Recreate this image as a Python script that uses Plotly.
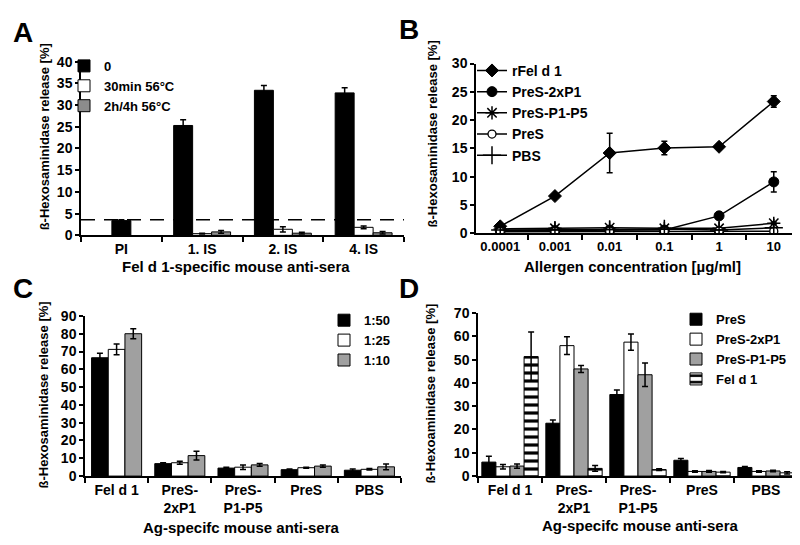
import plotly.graph_objects as go

W, H = 800, 545
def px(x): return x / W
def py(y): return 1 - y / H

FONT = "Liberation Sans, Arial, sans-serif"

# ---------------- Panel A data ----------------
a_cats = ["PI", "1. IS", "2. IS", "4. IS"]
a_s0 = [3.4, 25.3, 33.4, 32.8]
a_s0_err = [0.2, 1.3, 1.1, 1.2]
a_s30 = [None, 0.4, 1.4, 1.85]
a_s30_err = [None, 0.1, 0.6, 0.3]
a_s2h = [None, 0.8, 0.5, 0.6]
a_s2h_err = [None, 0.3, 0.2, 0.3]
a_threshold = 3.6
a_names = ["0", "30min 56°C", "2h/4h 56°C"]

# ---------------- Panel B data ----------------
b_cats = ["0.0001", "0.001", "0.01", "0.1", "1", "10"]
b_rfeld1 = [1.25, 6.6, 14.2, 15.1, 15.3, 23.3]
b_rfeld1_err = [0.3, 0.3, 3.5, 1.2, 0.5, 1.0]
b_pres2xp1 = [0.5, 0.5, 0.6, 0.6, 3.1, 9.1]
b_pres2xp1_err = [0.1, 0.1, 0.1, 0.1, 0.3, 1.8]
b_presp1p5 = [0.8, 0.9, 1.0, 0.9, 0.9, 1.8]
b_presp1p5_err = [0.1, 0.1, 0.2, 0.1, 0.1, 0.2]
b_pres = [0.3, 0.3, 0.4, 0.4, 0.4, 0.4]
b_pbs = [0.6, 0.6, 0.7, 0.8, 0.6, 1.0]

# ---------------- Panel C data ----------------
c_cats = ["Fel d 1", "PreS-<br>2xP1", "PreS-<br>P1-P5", "PreS", "PBS"]
c_150 = [66.5, 7.0, 4.5, 3.6, 3.3]
c_150_err = [2.5, 0.5, 0.4, 0.4, 0.7]
c_125 = [71.2, 7.5, 5.0, 4.7, 3.8]
c_125_err = [3.0, 0.8, 1.3, 0.3, 0.4]
c_110 = [80.0, 11.5, 6.3, 5.6, 5.2]
c_110_err = [2.8, 2.5, 0.8, 0.6, 1.6]
c_names = ["1:50", "1:25", "1:10"]

# ---------------- Panel D data ----------------
d_cats = ["Fel d 1", "PreS-<br>2xP1", "PreS-<br>P1-P5", "PreS", "PBS"]
d_pres = [6.0, 22.7, 35.0, 6.8, 3.7]
d_pres_err = [2.5, 1.4, 2.0, 0.8, 0.4]
d_pres2xp1 = [4.0, 56.0, 57.5, 2.0, 2.0]
d_pres2xp1_err = [1.0, 3.8, 3.5, 0.3, 0.3]
d_presp1p5 = [4.3, 46.0, 43.5, 2.0, 2.2]
d_presp1p5_err = [0.9, 1.5, 5.0, 0.4, 0.3]
d_feld1 = [51.3, 3.3, 2.8, 1.7, 1.4]
d_feld1_err = [10.5, 1.2, 0.4, 0.3, 0.5]
d_names = ["PreS", "PreS-2xP1", "PreS-P1-P5", "Fel d 1"]

fig = go.Figure()

def err(arr):
    return dict(type="data", array=arr, visible=True, color="black", thickness=1.5, width=3)

line = dict(color="black", width=1)

# Panel A bars
wA = 0.235
fig.add_trace(go.Bar(x=a_cats, y=a_s0, error_y=err(a_s0_err), name=a_names[0],
                     marker=dict(color="black", line=line), width=wA,
                     offset=[-wA / 2, -1.5 * wA, -1.5 * wA, -1.5 * wA],
                     xaxis="x", yaxis="y", legend="legend"))
fig.add_trace(go.Bar(x=a_cats, y=a_s30, error_y=err(a_s30_err), name=a_names[1],
                     marker=dict(color="white", line=line), width=wA, offset=-wA / 2,
                     xaxis="x", yaxis="y", legend="legend"))
fig.add_trace(go.Bar(x=a_cats, y=a_s2h, error_y=err(a_s2h_err), name=a_names[2],
                     marker=dict(color="#8c8c8c", line=line), width=wA, offset=wA / 2,
                     xaxis="x", yaxis="y", legend="legend"))

# Panel B lines
mline = dict(color="black", width=1.5)
b_series = [
    ("rFel d 1", b_rfeld1, b_rfeld1_err, dict(symbol="diamond", size=10, color="black", line=dict(color="black", width=1))),
    ("PreS-2xP1", b_pres2xp1, b_pres2xp1_err, dict(symbol="circle", size=10, color="black", line=dict(color="black", width=1))),
    ("PreS-P1-P5", b_presp1p5, b_presp1p5_err, dict(symbol="asterisk-open", size=11, color="black", line=dict(color="black", width=1.5))),
    ("PreS", b_pres, None, dict(symbol="circle", size=8, color="white", line=dict(color="black", width=1.3))),
    ("PBS", b_pbs, None, dict(symbol="cross-thin-open", size=13, color="black", line=dict(color="black", width=1.5))),
]
for name, vals, e, mk in b_series:
    fig.add_trace(go.Scatter(x=b_cats, y=vals, mode="lines+markers", name=name,
                             line=mline, marker=mk,
                             error_y=err(e) if e else None,
                             xaxis="x2", yaxis="y2", legend="legend2"))

# Panel C bars
wC = 0.264
for vals, e, name, col, off in [(c_150, c_150_err, c_names[0], "black", -1.5 * wC),
                                (c_125, c_125_err, c_names[1], "white", -0.5 * wC),
                                (c_110, c_110_err, c_names[2], "#a0a0a0", 0.5 * wC)]:
    fig.add_trace(go.Bar(x=c_cats, y=vals, error_y=err(e), name=name,
                         marker=dict(color=col, line=line), width=wC, offset=off,
                         xaxis="x3", yaxis="y3", legend="legend3"))

# Panel D bars
wD = 0.22
d_series = [(d_pres, d_pres_err, d_names[0], dict(color="black", line=line), -2 * wD),
            (d_pres2xp1, d_pres2xp1_err, d_names[1], dict(color="white", line=line), -wD),
            (d_presp1p5, d_presp1p5_err, d_names[2], dict(color="#a0a0a0", line=line), 0),
            (d_feld1, d_feld1_err, d_names[3],
             dict(color="white", line=line,
                  pattern=dict(shape="-", fgcolor="black", bgcolor="white", fgopacity=1,
                               size=8, solidity=0.4)), wD)]
for vals, e, name, mk, off in d_series:
    fig.add_trace(go.Bar(x=d_cats, y=vals, error_y=err(e), name=name, marker=mk,
                         width=wD, offset=off, xaxis="x4", yaxis="y4", legend="legend4"))

def tf(size):
    return dict(family=FONT, size=size, color="black", weight="bold")

def yax(domain, rng, dtick, anchor):
    return dict(domain=domain, range=rng, dtick=dtick, anchor=anchor, showline=True,
                linecolor="black", linewidth=1.5, ticks="outside", ticklen=4, tickwidth=1.5,
                tickcolor="black", showgrid=False, zeroline=False, tickfont=tf(14),
                fixedrange=True)
def xax(domain, anchor, size=14):
    return dict(domain=domain, anchor=anchor, type="category", tickson="boundaries",
                showline=True, linecolor="black", linewidth=1.5, ticks="outside", ticklen=5,
                tickwidth=1.5, tickcolor="black", showgrid=False, zeroline=False,
                tickangle=0, tickfont=tf(size), fixedrange=True)

def leg(x, y, size=14):
    return dict(x=x, y=y, xanchor="left", yanchor="top", font=tf(size),
                bgcolor="rgba(0,0,0,0)", itemwidth=30, tracegroupgap=0,
                itemclick=False, itemdoubleclick=False)

ann = []
def text(x, y, s, size, angle=0, xa="center", ya="middle"):
    ann.append(dict(x=px(x), y=py(y), xref="paper", yref="paper", text=s, showarrow=False,
                    textangle=angle, xanchor=xa, yanchor=ya, font=tf(size)))

for letter, x, y in [("A", 15, 17), ("B", 401, 14), ("C", 15, 281), ("D", 401, 281)]:
    text(x, y, letter, 28)
text(36, 125, "ß-Hexosaminidase release [%]", 13, angle=-90)
text(228, 258, "Fel d 1-specific mouse anti-sera", 15)
text(424, 122, "ß-Hexosaminidase release [%]", 13, angle=-90)
text(624, 258, "Allergen concentration [µg/ml]", 15)
text(36, 391, "ß-Hexosaminidase release [%]", 13, angle=-90)
text(233, 527, "Ag-specifc mouse anti-sera", 15)
text(423, 389, "ß-Hexoaminidase release [%]", 13, angle=-90)
text(632, 525, "Ag-specifc mouse anti-sera", 15)

fig.update_layout(
    width=W, height=H, margin=dict(l=0, r=0, t=0, b=0),
    paper_bgcolor="white", plot_bgcolor="white",
    barmode="overlay", showlegend=True,
    xaxis=xax([px(73), px(396)], "y"),
    yaxis=yax([py(226), py(47)], [0, 40], 5, "x"),
    xaxis2=xax([px(468), px(790)], "y2", 13),
    yaxis2=yax([py(224), py(49)], [0, 30], 5, "x2"),
    xaxis3=xax([px(77), px(393)], "y3"),
    yaxis3=yax([py(474), py(309)], [0, 90], 10, "x3"),
    xaxis4=xax([px(470), px(790)], "y4"),
    yaxis4=yax([py(474), py(306)], [0, 70], 10, "x4"),
    legend=leg(px(56), py(36), 13),
    legend2=leg(px(464), py(40), 14),
    legend3=leg(px(316), py(298), 13),
    legend4=leg(px(668), py(297), 13),
    annotations=ann,
    shapes=[dict(type="line", xref="x domain", yref="y", x0=0, x1=1, y0=a_threshold, y1=a_threshold,
                 line=dict(color="black", width=1.5, dash="14px,9px"))],
)

fig.write_html("out.html")
